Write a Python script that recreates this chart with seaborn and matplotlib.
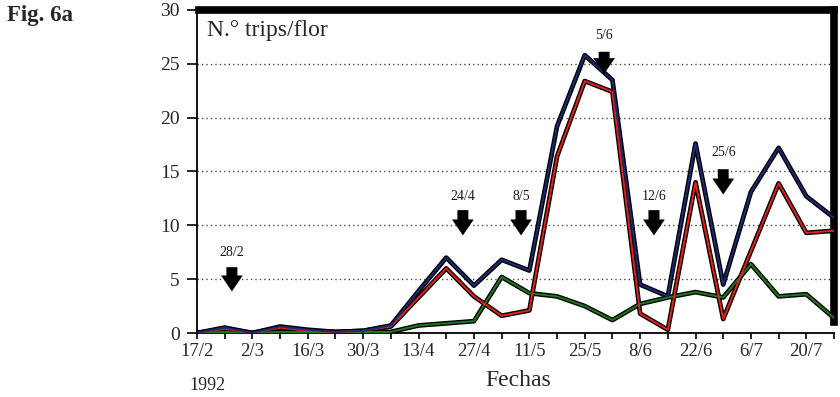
import matplotlib
matplotlib.use("Agg")
import matplotlib.pyplot as plt
import seaborn as sns
import pandas as pd
import numpy as np

# Sampling dates (weekly) and thrips counts per flower
fechas = ["17/2", "24/2", "2/3", "9/3", "16/3", "23/3", "30/3", "6/4", "13/4",
          "20/4", "27/4", "4/5", "11/5", "18/5", "25/5", "1/6", "8/6", "15/6",
          "22/6", "29/6", "6/7", "13/7", "20/7", "27/7"]
total = [0.0, 0.5, 0.0, 0.6, 0.3, 0.1, 0.2, 0.7, 3.9, 7.0, 4.4, 6.8, 5.8, 19.2,
         25.8, 23.5, 4.5, 3.4, 17.6, 4.5, 13.1, 17.2, 12.7, 10.7]
adultos = [0.0, 0.4, 0.0, 0.5, 0.2, 0.1, 0.2, 0.6, 3.3, 6.0, 3.4, 1.6, 2.1, 16.4,
           23.4, 22.4, 1.8, 0.3, 14.0, 1.3, 7.6, 13.9, 9.3, 9.5]
larvas = [0.0, 0.1, 0.0, 0.1, 0.1, 0.0, 0.1, 0.1, 0.7, 0.9, 1.1, 5.2, 3.7, 3.4,
          2.5, 1.2, 2.7, 3.3, 3.8, 3.3, 6.4, 3.4, 3.6, 1.4]

tick_labels = ["17/2", "2/3", "16/3", "30/3", "13/4", "27/4", "11/5", "25/5",
               "8/6", "22/6", "6/7", "20/7"]

# Treatment arrows: label, x (weeks from 17/2), arrow top, arrow tip, label height
tratamientos = ["28/2", "24/4", "8/5", "5/6", "12/6", "25/6"]
trat_x = [1.26, 9.6, 11.7, 14.7, 16.5, 19.0]
trat_top = [6.1, 11.4, 11.4, 26.1, 11.4, 15.2]
trat_tip = [3.9, 9.1, 9.1, 24.1, 9.1, 12.9]
trat_lab_y = [7.5, 12.7, 12.7, 27.6, 12.7, 16.8]

semana = np.arange(len(fechas))
df = pd.DataFrame({
    "semana": np.tile(semana, 3),
    "valor": total + adultos + larvas,
    "serie": ["total"] * len(fechas) + ["adultos"] * len(fechas) + ["larvas"] * len(fechas),
})

sns.set_style("white")
plt.rcParams["font.family"] = ["Liberation Serif", "DejaVu Serif"]

fig = plt.figure(figsize=(8.4, 3.97), dpi=100)
ax = fig.add_axes([197 / 840, 1 - 333 / 397, 637 / 840, 323 / 397])

# dotted reference lines
for yv in [5, 10, 15, 20, 25]:
    ax.axhline(yv, color="#4a4a30", lw=1.0, ls=(0, (1, 2.2)), zorder=1)

colores = {"larvas": "#1b7a1b", "adultos": "#e8201c", "total": "#1c2a78"}
for serie in ["larvas", "adultos", "total"]:
    sub = df[df["serie"] == serie]
    sns.lineplot(data=sub, x="semana", y="valor", ax=ax, color="black",
                 lw=3.4, legend=False, zorder=3)
    sns.lineplot(data=sub, x="semana", y="valor", ax=ax, color=colores[serie],
                 lw=1.4, legend=False, zorder=4)

for lab, x, top, tip, ly in zip(tratamientos, trat_x, trat_top, trat_tip, trat_lab_y):
    ax.annotate("", xy=(x, tip), xytext=(x, top),
                arrowprops=dict(arrowstyle="simple,head_width=1.5,head_length=1.1,tail_width=0.75",
                                mutation_scale=10, shrinkA=0, shrinkB=0,
                                color="black", lw=0.3), zorder=6)
    ax.text(x, ly, lab, ha="center", va="center", fontsize=10, color="#1a1a1a")

ax.set_xlim(0, 23)
ax.set_ylim(0, 30)
ax.set_xticks(semana)
ax.set_xticklabels([fechas[i] if fechas[i] in tick_labels else "" for i in semana],
                   fontsize=13.5)
ax.set_yticks([0, 5, 10, 15, 20, 25, 30])
ax.set_yticklabels(["0", "5", "10", "15", "20", "25", "30"], fontsize=14)
ax.tick_params(axis="x", direction="out", length=4.5, width=1.2, color="black",
               bottom=True, pad=3)
ax.tick_params(axis="y", direction="out", length=7.5, width=1.2, color="black",
               left=True, pad=5)
ax.set_xlabel("")
ax.set_ylabel("")

for s in ["left", "bottom"]:
    ax.spines[s].set_linewidth(1.3)
    ax.spines[s].set_color("black")
ax.spines["top"].set_linewidth(5.5)
ax.spines["top"].set_color("black")
ax.spines["top"].set_bounds(0.08, 23)
ax.spines["right"].set_linewidth(5.5)
ax.spines["right"].set_color("black")
ax.spines["right"].set_bounds(1.0, 30)

ax.text(0.016, 0.935, "N.° trips/flor", transform=ax.transAxes, fontsize=17,
        ha="left", va="center")
fig.text(7 / 840, 1 - 16 / 397, "Fig. 6a", fontsize=16.5, fontweight="bold",
         ha="left", va="center")
fig.text(518 / 840, 1 - 380 / 397, "Fechas", fontsize=17, ha="center", va="center")
fig.text(207 / 840, 1 - 385 / 397, "1992", fontsize=13, ha="center", va="center")

fig.savefig("out.png", dpi=100)
